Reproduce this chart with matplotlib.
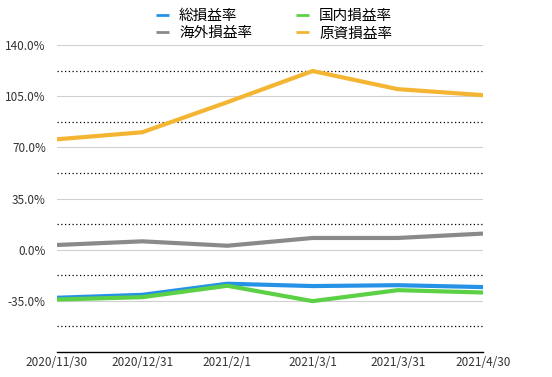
import matplotlib
matplotlib.use('Agg')
import matplotlib.pyplot as plt
import numpy as np

plt.rcParams['font.family'] = ['Noto Sans CJK JP', 'DejaVu Sans']

# 日付ラベルと各系列の値（%）
dates = ['2020/11/30', '2020/12/31', '2021/2/1', '2021/3/1', '2021/3/31', '2021/4/30']
total_rate = [-32.9, -30.9, -23.3, -24.9, -24.3, -25.6]      # 総損益率
domestic_rate = [-34.1, -32.5, -24.7, -35.2, -27.7, -29.3]   # 国内損益率
overseas_rate = [3.2, 5.7, 2.7, 8.0, 8.0, 11.0]              # 海外損益率
principal_rate = [75.5, 80.3, 100.9, 122.2, 109.8, 105.7]    # 原資損益率

series = [
    ('総損益率', total_rate, '#2592E6'),
    ('海外損益率', overseas_rate, '#8A8A8A'),
    ('国内損益率', domestic_rate, '#5CD145'),
    ('原資損益率', principal_rate, '#F4B533'),
]

fig = plt.figure(figsize=(5.52, 3.77), dpi=100)
ax = fig.add_axes([57 / 552, 1 - 352 / 377, 426 / 552, 307 / 377])

x = np.arange(len(dates))
for label, vals, color in series:
    ax.plot(x, vals, color=color, lw=3, label=label, solid_capstyle='butt', zorder=3)

ax.set_xlim(0, len(dates) - 1)
ax.set_ylim(-70, 140)
major = np.arange(-35, 141, 35)
ax.set_yticks(major)
ax.set_yticklabels([f'{v:.1f}%' for v in major])
for v in major:
    ax.axhline(v, color='#D0D0D0', lw=0.8, zorder=1)
for v in np.arange(-52.5, 140, 35):
    ax.axhline(v, color='black', lw=0.9, ls=(0, (1, 2)), zorder=1)

ax.set_xticks(x)
ax.set_xticklabels(dates)
for s in ['top', 'right', 'left']:
    ax.spines[s].set_visible(False)
ax.spines['bottom'].set_color('black')
ax.spines['bottom'].set_linewidth(1)
ax.tick_params(axis='both', length=0, labelsize=8.5, colors='#333333')
ax.tick_params(axis='x', pad=3)
ax.tick_params(axis='y', pad=8)

leg = ax.legend(loc='upper center', bbox_to_anchor=(274 / 552, 1.0), bbox_transform=fig.transFigure,
                ncol=2, frameon=False, fontsize=10.5, handlelength=0.9, handletextpad=0.7,
                columnspacing=3.0, labelspacing=0.25, borderaxespad=0.2)
for h in leg.get_lines():
    h.set_linewidth(2)

fig.savefig('out.png', dpi=100)
